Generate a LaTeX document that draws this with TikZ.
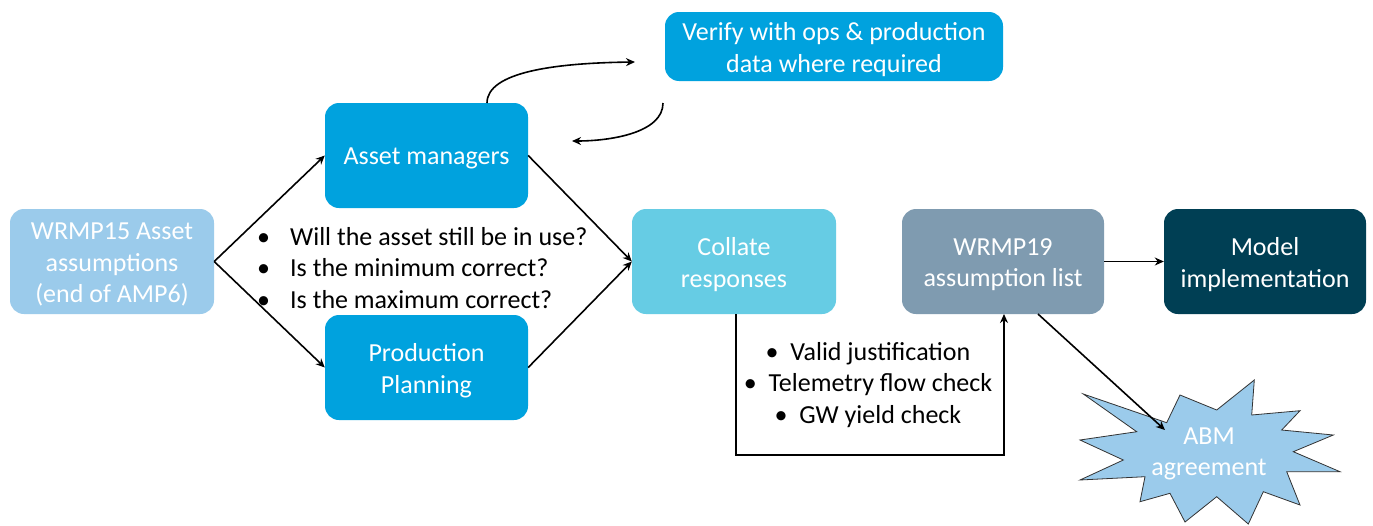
\documentclass[tikz,border=0pt]{standalone}
\usepackage{fontspec}
\setmainfont{Carlito}
\usetikzlibrary{arrows.meta}
\definecolor{lightb}{RGB}{155,203,235}
\definecolor{midb}{RGB}{0,162,222}
\definecolor{cyanb}{RGB}{102,204,228}
\definecolor{greyb}{RGB}{127,155,176}
\definecolor{darkb}{RGB}{0,63,84}
\begin{document}
\begin{tikzpicture}[x=1pt,y=-1pt,
  box/.style={rectangle,rounded corners=14pt,draw=none,inner sep=0pt},
  lbl/.style={text=white,align=center,font=\fontsize{26}{31.5}\selectfont,inner sep=0pt,yshift=-3pt},
  conn/.style={line width=1.6pt,-{Stealth[length=9pt,width=8pt]}},
  txt/.style={font=\fontsize{26}{31.5}\selectfont,text=black,inner sep=0pt}]
\useasboundingbox (0,0) rectangle (1373,525);
\fill[white] (0,0) rectangle (1373,525);
% boxes
\node[box,fill=lightb,minimum width=204pt,minimum height=105pt,label={[lbl]center:{WRMP15 Asset\\assumptions\\(end of AMP6)}}] (w15) at (112,261.5) {};
\node[box,fill=midb,minimum width=203pt,minimum height=105pt,label={[lbl]center:{Asset managers}}] (am) at (426.5,155.5) {};
\node[box,fill=midb,minimum width=203pt,minimum height=105pt,label={[lbl]center:{Production\\Planning}}] (pp) at (426.5,367.5) {};
\node[box,fill=midb,minimum width=338pt,minimum height=69pt,label={[lbl]center:{Verify with ops \& production\\data where required}}] (ver) at (834,46.5) {};
\node[box,fill=cyanb,minimum width=204pt,minimum height=105pt,label={[lbl]center:{Collate\\responses}}] (col) at (734,261.5) {};
\node[box,fill=greyb,minimum width=202pt,minimum height=105pt,label={[lbl]center:{WRMP19\\assumption list}}] (w19) at (1003,261.5) {};
\node[box,fill=darkb,minimum width=202pt,minimum height=105pt,label={[lbl]center:{Model\\implementation}}] (mod) at (1265,261.5) {};
% starburst
\draw[fill=lightb,draw=black!80,line width=0.8pt]
 (1083.3,394) -- (1166.7,422.7) -- (1180,395) -- (1216.7,410) -- (1254.3,380) -- (1251.7,415)
 -- (1300,410.7) -- (1281.7,430) -- (1333.3,435) -- (1293.3,451.7) -- (1340,471.7) -- (1286.7,471.7)
 -- (1300,505) -- (1263.3,491.7) -- (1248.3,524) -- (1216.7,496.7) -- (1185,522) -- (1170,493.3)
 -- (1140,501.7) -- (1145,476.7) -- (1080,480) -- (1123.3,460) -- (1080,440) -- (1136.7,431.7) -- cycle;
\node[lbl] (abm) at (1209,451) {ABM\\agreement};
\coordinate (abmin) at (1165,430);
% bullet texts
\node[txt,anchor=west,align=left] (q) at (257,268) {%
\makebox[33pt][l]{\textbullet}Will the asset still be in use?\\
\makebox[33pt][l]{\textbullet}Is the minimum correct?\\
\makebox[33pt][l]{\textbullet}Is the maximum correct?};
\node[txt,align=center] (chk) at (868,385) {\textbullet\ \ Valid justification\\\textbullet\ \ Telemetry flow check\\\textbullet\ \ GW yield check};
% connectors
\coordinate (split) at (w15.east);
\draw[conn] (split) -- (am.west);
\draw[conn] (split) -- (pp.west);
\draw[conn] (am.east) -- (col.west);
\draw[conn] (pp.east) -- (col.west);
\coordinate (c1s) at (487,103);
\coordinate (c1e) at (635,62);
\coordinate (c2s) at (663,103);
\coordinate (c2e) at (572,141);
\draw[conn] (c1s) .. controls (487,72) and (555,63) .. (c1e);
\draw[conn] (c2s) .. controls (663,133) and (610,141) .. (c2e);
\coordinate (cb) at (736,455);
\coordinate (wb) at (1004,455);
\draw[conn] (736,314) -- (cb) -- (wb) -- (1004,314);
\draw[conn] (w19.east) -- (mod.west);
\draw[conn] (1038,314) -- (abmin);
\end{tikzpicture}
\end{document}
